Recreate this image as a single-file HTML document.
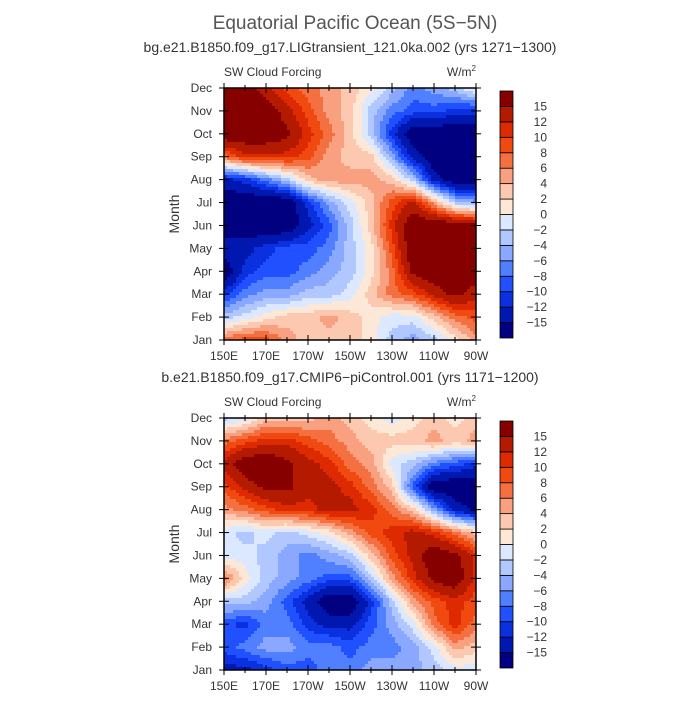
<!DOCTYPE html>
<html><head><meta charset="utf-8"><style>
body{margin:0;background:#fff;}
svg text{font-family:"Liberation Sans",sans-serif;fill:#333;}
</style></head><body>
<svg id="chart" width="700" height="700" viewBox="0 0 700 700">
<text x="355" y="29" font-size="19" text-anchor="middle" style="fill:#555">Equatorial Pacific Ocean (5S−5N)</text>
</svg>
<script>
const months=["Jan","Feb","Mar","Apr","May","Jun","Jul","Aug","Sep","Oct","Nov","Dec"];
const lons=[150,160,170,180,190,200,210,220,230,240,250,260,270];
const lonTickLabels=["150E","170E","170W","150W","130W","110W","90W"];
const levels=[-15,-12,-10,-8,-6,-4,-2,0,2,4,6,8,10,12,15];
const levelColors=["#000080","#0018b0","#0a30e0","#2050ff","#5080ff","#8aa8ff","#b0c8ff","#dce8ff","#fde8d8","#fcc8b0","#f9a080","#f57040","#f04a10","#dd2a00","#b31a00","#870000"];
// rows Jan..Dec, cols lons
const topValues=[
[7,9,9,5,3,3,3,1,-3,-5,-3,1,5],
[-3,-1,1,3,3,5,3,1,-1,-1,3,7,9],
[-11,-7,-5,-5,-3,-3,-1,3,7,9,13,16,13],
[-18,-11,-9,-9,-7,-5,-3,1,7,16,18,18,18],
[-13,-13,-11,-9,-9,-7,-3,1,9,18,18,18,18],
[-18,-18,-18,-18,-13,-9,-3,3,11,18,18,18,16],
[-18,-18,-18,-18,-11,-5,-1,3,9,13,5,-3,-5],
[-13,-11,-7,-3,3,5,5,5,3,-3,-13,-18,-18],
[7,11,11,11,9,5,3,3,-5,-13,-18,-18,-18],
[18,18,18,16,11,7,3,-3,-11,-18,-18,-18,-18],
[18,18,18,13,9,5,3,-3,-7,-9,-9,-11,-11],
[18,18,13,9,7,5,3,1,-3,-7,-5,-3,1]];
const bottomValues=[
[-13,-13,-11,-9,-9,-7,-7,-5,-5,-5,-3,-1,-1],
[-9,-7,-5,-5,-7,-7,-9,-7,-7,-5,-1,5,3],
[-9,-11,-7,-7,-11,-13,-13,-9,-5,-1,7,11,7],
[-3,-3,-5,-9,-13,-18,-18,-11,-3,5,9,11,9],
[7,1,-3,-5,-7,-9,-9,-3,5,11,16,18,11],
[-1,-1,-3,-5,-7,-5,-3,3,9,13,18,16,11],
[-1,-3,-1,-3,-1,1,5,9,11,13,11,7,3],
[5,7,9,11,11,13,13,11,7,3,-5,-13,-16],
[9,13,16,16,13,13,11,7,3,-9,-18,-18,-18],
[13,18,18,16,13,11,7,5,-1,-3,-7,-9,-11],
[7,9,11,11,9,7,5,3,3,3,5,3,5],
[-3,-1,3,3,3,5,3,1,-1,1,3,1,3]];
const subtitles=["bg.e21.B1850.f09_g17.LIGtransient_121.0ka.002 (yrs 1271−1300)","b.e21.B1850.f09_g17.CMIP6−piControl.001 (yrs 1171−1200)"];

const NS="http://www.w3.org/2000/svg";
const svg=document.getElementById('chart');
function mk(tag,attrs,parent){const e=document.createElementNS(NS,tag);for(const k in attrs)e.setAttribute(k,attrs[k]);(parent||svg).appendChild(e);return e;}
function colorFor(v){let i=0;while(i<levels.length&&v>=levels[i])i++;return levelColors[i];}
function sample(data,fm,fl){
  const m0=Math.max(0,Math.min(10,Math.floor(fm))),l0=Math.max(0,Math.min(11,Math.floor(fl)));
  const tm=fm-m0,tl=fl-l0;
  return data[m0][l0]*(1-tm)*(1-tl)+data[m0][l0+1]*(1-tm)*tl+data[m0+1][l0]*tm*(1-tl)+data[m0+1][l0+1]*tm*tl;
}
function panel(data,top,sub,idx){
  const L=224,R=476,T=top,B=top+252;
  const xs=lon=>L+(lon-150)*(R-L)/120;
  const ys=m=>B-m*(B-T)/11;
  const g=mk('g',{});
  
  
  const t=mk('text',{x:350,y:T-36,'font-size':14,'text-anchor':'middle'});
  t.textContent=sub;
  const a=mk('text',{x:L,y:T-12,'font-size':12});
  a.textContent="SW Cloud Forcing";
  const u=mk('text',{x:R,y:T-12,'font-size':12,'text-anchor':'end'});
  u.innerHTML='W/m<tspan font-size="8" dy="-5">2</tspan>';
  const field=mk('g',{'shape-rendering':'crispEdges'},g);
  
  const step=3;
  for(let py=T;py<B;py+=step){for(let px=L;px<R;px+=step){
    const cx=px+step/2,cy=py+step/2;
    const fl=(cx-L)/(R-L)*(lons.length-1);
    const fm=(B-cy)/(B-T)*(months.length-1);
    const r=mk('rect',{x:px,y:py,width:Math.min(step,R-px)+0.3,height:Math.min(step,B-py)+0.3,fill:colorFor(sample(data,fm,fl))},field);
    
  }}
  mk('rect',{x:L,y:T,width:R-L,height:B-T,fill:'none',stroke:'#000','stroke-width':1.5},g);
  for(let m=0;m<12;m++){
    const y=ys(m);
    mk('line',{x1:L-5,x2:L+5,y1:y,y2:y,stroke:'#000'},g);
    mk('line',{x1:R-5,x2:R+5,y1:y,y2:y,stroke:'#000'},g);
    const tl=mk('text',{x:L-12,y:y+4,'font-size':12,'text-anchor':'end'},g);
    tl.textContent=months[m];
  }
  for(let lon=150;lon<=270;lon+=10){
    const x=xs(lon),maj=(lon-150)%20===0;
    const len=maj?5:3;
    mk('line',{x1:x,x2:x,y1:B-len,y2:B+len,stroke:'#000'},g);
    mk('line',{x1:x,x2:x,y1:T-len,y2:T+len,stroke:'#000'},g);
    if(maj){const tl=mk('text',{x:x,y:B+20,'font-size':12,'text-anchor':'middle'},g);
      tl.textContent=lonTickLabels[(lon-150)/20];}
  }
  const yt=mk('text',{x:0,y:0,'font-size':14,'text-anchor':'middle',transform:`translate(179,${(T+B)/2}) rotate(-90)`},g);
  yt.textContent="Month";
  const cb=mk('g',{},g);
  
  const cT=T+3,cB=B-2,h=(cB-cT)/16;
  for(let i=0;i<16;i++){
    const r=mk('rect',{x:500,y:cB-(i+1)*h,width:13,height:h,fill:levelColors[i],stroke:'#000','stroke-width':0.8},cb);
    
  }
  for(let i=0;i<levels.length;i++){
    const tl=mk('text',{x:547,y:cB-(i+1)*h+4,'font-size':12,'text-anchor':'end'},cb);
    
    tl.textContent=String(levels[i]).replace('-','−');
  }
}
panel(topValues,88,subtitles[0],0);
panel(bottomValues,418,subtitles[1],1);
</script>
</body></html>
